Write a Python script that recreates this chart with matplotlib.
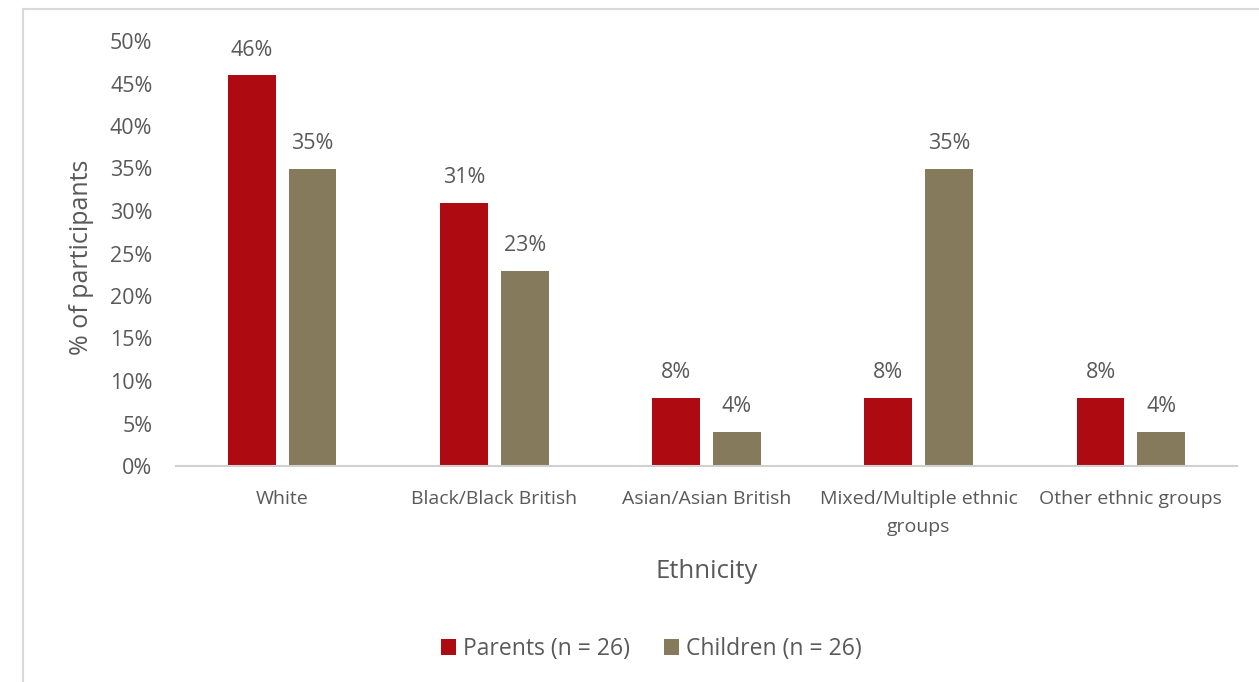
import numpy as np
import matplotlib.pyplot as plt
from matplotlib.ticker import PercentFormatter

categories = ["White", "Black/Black British", "Asian/Asian British",
              "Mixed/Multiple ethnic\ngroups", "Other ethnic groups"]
parents = [46, 31, 8, 8, 8]
children = [35, 23, 4, 35, 4]
series_names = ["Parents (n = 26)", "Children (n = 26)"]

red = "#ae0a11"
olive = "#857b5c"
grey = "#595959"

plt.rcParams["font.family"] = ["Open Sans", "DejaVu Sans"]
plt.rcParams["font.weight"] = "medium"

fig = plt.figure(figsize=(12.59, 6.82), dpi=100)
ax = fig.add_axes([176 / 1259, 1 - 466 / 682, 1061 / 1259, 425 / 682])

x = np.arange(len(categories))
w = 0.225
b1 = ax.bar(x - 0.143, parents, w, color=red, label=series_names[0])
b2 = ax.bar(x + 0.143, children, w, color=olive, label=series_names[1])

for bars, vals in [(b1, parents), (b2, children)]:
    for r, v in zip(bars, vals):
        ax.annotate(f"{v}%", (r.get_x() + r.get_width() / 2, v),
                    xytext=(0, 18), textcoords="offset points",
                    ha="center", va="center", fontsize=15.5, color=grey)

ax.set_xlim(-0.5, len(categories) - 0.5)
ax.set_ylim(0, 50)
ax.set_yticks(np.arange(0, 51, 5))
ax.yaxis.set_major_formatter(PercentFormatter(decimals=0))
ax.set_xticks(x)
ax.set_xticklabels(categories, fontsize=14, color=grey, linespacing=1.75)
ax.tick_params(axis="y", length=0, pad=17, labelsize=15.5, labelcolor=grey)
ax.tick_params(axis="x", length=0, pad=17)

for s in ["top", "right", "left"]:
    ax.spines[s].set_visible(False)
ax.spines["bottom"].set_color("#d0d0d0")
ax.spines["bottom"].set_linewidth(1.5)

ax.set_ylabel("% of participants", fontsize=18, color=grey, va="center")
ax.yaxis.set_label_coords(-0.0886, 0.492)
ax.set_xlabel("Ethnicity", fontsize=18.5, color=grey, va="center")
ax.xaxis.set_label_coords(0.5, -0.248)

leg = fig.legend(handles=[b1, b2], loc="center",
                 bbox_to_anchor=(651.5 / 1259, 1 - 649 / 682),
                 ncol=2, frameon=False, fontsize=16.5, handlelength=0.65,
                 handleheight=0.65, columnspacing=1.5, handletextpad=0.3)
for t in leg.get_texts():
    t.set_color(grey)

# thin outer frame
fig.add_artist(plt.Line2D([23 / 1259, 23 / 1259], [0, 1 - 9 / 682],
                          transform=fig.transFigure, color="#d9d9d9", lw=1.5))
fig.add_artist(plt.Line2D([23 / 1259, 1], [1 - 9 / 682, 1 - 9 / 682],
                          transform=fig.transFigure, color="#d9d9d9", lw=1.5))

fig.savefig("out.png", dpi=100)
